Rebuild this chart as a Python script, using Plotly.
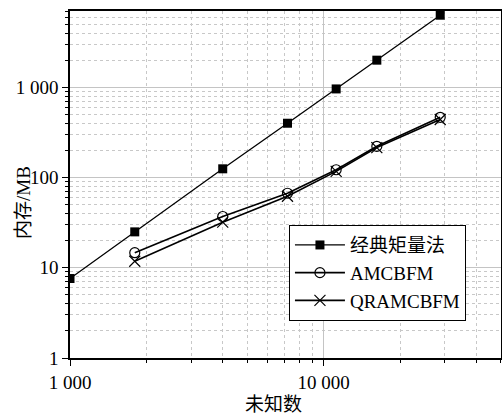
import plotly.graph_objects as go

unknowns = [1000, 1800, 4000, 7200, 11200, 16200, 28800]
classic = [7.6, 25, 125, 400, 960, 2000, 6300]
amc_x = [1800, 4000, 7200, 11200, 16200, 28800]
amc = [14.7, 37, 67, 122, 222, 465]
qr = [11.8, 32, 62, 117, 215, 440]

names = ["经典矩量法", "AMCBFM", "QRAMCBFM"]
x_title = "未知数"
y_title = "内存/MB"
x_ticks = [1000, 10000]
x_ticktext = ["1 000", "10 000"]
y_ticks = [1, 10, 100, 1000]
y_ticktext = ["1", "10", "100", "1 000"]
x_minor = [m * d for d in (1000, 10000) for m in range(2, 10)]
y_minor = [m * d for d in (1, 10, 100, 1000) for m in range(2, 10)]

FONT = "Liberation Serif, Times New Roman, Noto Sans CJK SC, serif"

fig = go.Figure()
fig.add_trace(go.Scatter(x=unknowns, y=classic, name=names[0], mode="lines+markers",
                         line=dict(color="black", width=1.3),
                         marker=dict(symbol="square", size=9, color="black")))
fig.add_trace(go.Scatter(x=amc_x, y=amc, name=names[1], mode="lines+markers",
                         line=dict(color="black", width=1.6),
                         marker=dict(symbol="circle-open", size=10, color="black",
                                     line=dict(width=1.2))))
fig.add_trace(go.Scatter(x=amc_x, y=qr, name=names[2], mode="lines+markers",
                         line=dict(color="black", width=1.6),
                         marker=dict(symbol="x-thin-open", size=11, color="black",
                                     line=dict(width=1.2))))

axis_common = dict(
    showline=True, linecolor="black", linewidth=1.5, mirror=True,
    ticks="outside", tickcolor="black", tickwidth=1.2, ticklen=6,
    showgrid=True, gridcolor="#c4c4c4", gridwidth=1,
    zeroline=False, automargin=False,
    tickfont=dict(family=FONT, size=19, color="black"),
)

minor_common = dict(tickmode="array", ticks="outside", ticklen=3, tickcolor="black",
                    tickwidth=1, showgrid=True, gridcolor="#c8c8c8", griddash="dot",
                    gridwidth=1)

fig.update_xaxes(type="log", range=[3, 4.699], tickmode="array",
                 tickvals=x_ticks, ticktext=x_ticktext,
                 minor=dict(tickvals=x_minor, **minor_common),
                 **axis_common)
fig.update_yaxes(type="log", range=[0, 3.846], tickmode="array",
                 tickvals=y_ticks, ticktext=y_ticktext,
                 minor=dict(tickvals=y_minor, **minor_common),
                 **axis_common)

fig.add_annotation(text=x_title, xref="paper", yref="paper", x=0.471, y=-0.135,
                   xanchor="center", yanchor="middle", showarrow=False,
                   font=dict(family=FONT, size=19, color="black"))
fig.add_annotation(text=y_title, xref="paper", yref="paper", x=-0.1067, y=0.4467,
                   xanchor="center", yanchor="middle", showarrow=False, textangle=-90,
                   font=dict(family=FONT, size=19, color="black"))

fig.update_layout(
    width=502, height=414,
    margin=dict(l=70, r=1, t=11, b=56),
    paper_bgcolor="white", plot_bgcolor="white",
    font=dict(family=FONT, size=19, color="black"),
    showlegend=True,
    legend=dict(x=0.508, y=0.383, xanchor="left", yanchor="top",
                bgcolor="white", bordercolor="black", borderwidth=1,
                font=dict(family=FONT, size=19, color="black"),
                tracegroupgap=0, itemwidth=50),
)

fig.write_html("out.html",
               config={"displayModeBar": False},
               post_script="document.body.style.margin='0';"
                           "document.body.style.overflow='hidden';")
